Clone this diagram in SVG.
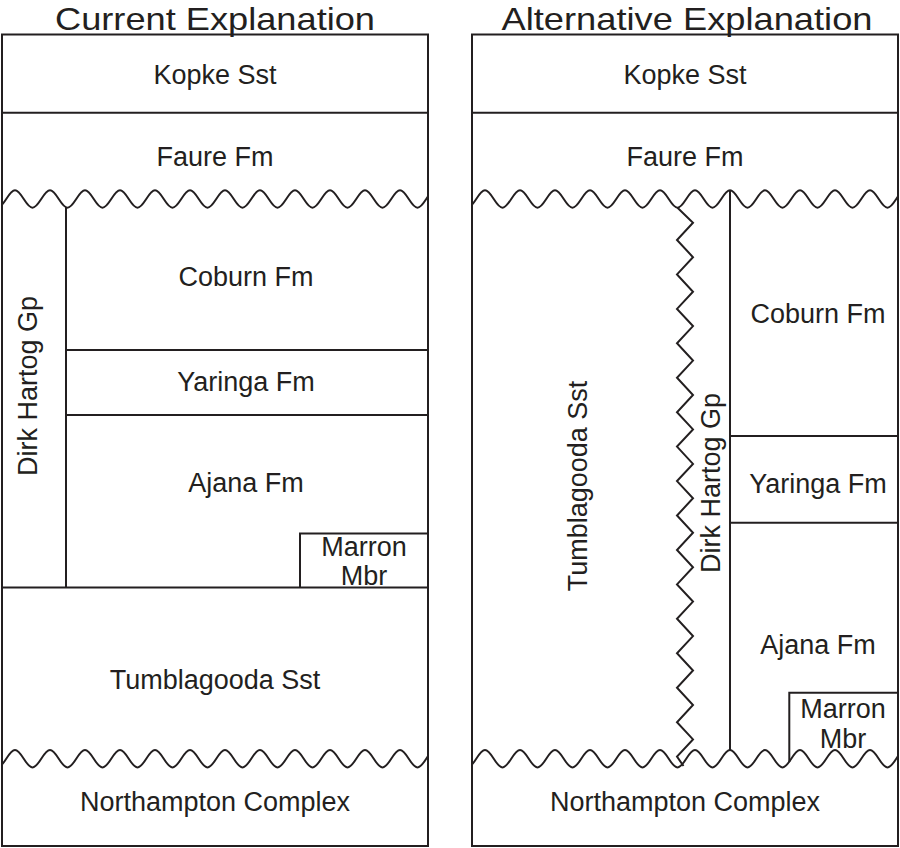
<svg xmlns="http://www.w3.org/2000/svg" xmlns:xlink="http://www.w3.org/1999/xlink" width="900" height="848" viewBox="0 0 900 848">
<style>
.ln{fill:none;stroke:#231f20;stroke-width:2}
.lb{font-family:"Liberation Sans",Arial,sans-serif;font-size:27px;fill:#231f20;text-anchor:middle}
.tt{font-family:"Liberation Sans",Arial,sans-serif;font-size:32px;fill:#231f20;text-anchor:middle}
</style>
<defs>
<path id="wave" class="ln" d="M-20,0c6.36,0 11.14,17.4 17.5,17.4s11.14,-17.4 17.5,-17.4s11.14,17.4 17.5,17.4s11.14,-17.4 17.5,-17.4s11.14,17.4 17.5,17.4s11.14,-17.4 17.5,-17.4s11.14,17.4 17.5,17.4s11.14,-17.4 17.5,-17.4s11.14,17.4 17.5,17.4s11.14,-17.4 17.5,-17.4s11.14,17.4 17.5,17.4s11.14,-17.4 17.5,-17.4s11.14,17.4 17.5,17.4s11.14,-17.4 17.5,-17.4s11.14,17.4 17.5,17.4s11.14,-17.4 17.5,-17.4s11.14,17.4 17.5,17.4s11.14,-17.4 17.5,-17.4s11.14,17.4 17.5,17.4s11.14,-17.4 17.5,-17.4s11.14,17.4 17.5,17.4s11.14,-17.4 17.5,-17.4s11.14,17.4 17.5,17.4s11.14,-17.4 17.5,-17.4s11.14,17.4 17.5,17.4s11.14,-17.4 17.5,-17.4"/>
<clipPath id="clipL"><rect x="2" y="0" width="426" height="848"/></clipPath>
<clipPath id="clipR"><rect x="472" y="0" width="426" height="848"/></clipPath>
</defs>
<rect width="900" height="848" fill="#ffffff"/>

<g id="titles">
<text class="tt" x="215" y="30" textLength="320" lengthAdjust="spacingAndGlyphs">Current Explanation</text>
<text class="tt" x="687" y="30" textLength="371" lengthAdjust="spacingAndGlyphs">Alternative Explanation</text>
</g>

<g id="connectors">
<!-- left panel -->
<rect class="ln" x="2" y="34.5" width="426" height="811.5"/>
<line class="ln" x1="2" y1="112.7" x2="428" y2="112.7"/>
<line class="ln" x1="66" y1="207" x2="66" y2="587.5"/>
<line class="ln" x1="66" y1="350" x2="428" y2="350"/>
<line class="ln" x1="66" y1="415" x2="428" y2="415"/>
<line class="ln" x1="2" y1="587.5" x2="428" y2="587.5"/>
<polyline class="ln" points="428,533.5 300,533.5 300,587.5"/>
<g clip-path="url(#clipL)">
<use xlink:href="#wave" href="#wave" transform="translate(0,190.3)"/>
<use xlink:href="#wave" href="#wave" transform="translate(0,750)"/>
</g>
<!-- right panel -->
<rect class="ln" x="472" y="34.5" width="426" height="811.5"/>
<line class="ln" x1="472" y1="112.7" x2="898" y2="112.7"/>
<line class="ln" x1="730" y1="190.3" x2="730" y2="750"/>
<line class="ln" x1="730" y1="436" x2="898" y2="436"/>
<line class="ln" x1="730" y1="522.7" x2="898" y2="522.7"/>
<polyline class="ln" points="898,692.7 789.3,692.7 789.3,762"/>
<g clip-path="url(#clipR)">
<use xlink:href="#wave" href="#wave" transform="translate(470,190.3)"/>
<use xlink:href="#wave" href="#wave" transform="translate(470,750)"/>
</g>
<polyline class="ln" stroke-linejoin="miter" points="677.5,207.7 693,222.8 677,240 693,257.2 677,274.4 693,291.7 677,308.9 693,326.1 677,343.3 693,360.6 677,377.8 693,395 677,412.2 693,429.4 677,446.6 693,463.9 677,481.1 693,498.3 677,515.5 693,532.8 677,550 693,567.2 677,584.4 693,601.6 677,618.8 693,636.1 677,653.3 693,670.5 677,687.7 693,705 677,722.2 693,739.4 677,756.6 683.5,766"/>
</g>

<g id="left-kopke"><text class="lb" x="215" y="84">Kopke Sst</text></g>
<g id="left-faure"><text class="lb" x="215" y="166">Faure Fm</text></g>
<g id="left-dirkhartog"><text class="lb" transform="translate(37,386) rotate(-90)">Dirk Hartog Gp</text></g>
<g id="left-coburn"><text class="lb" x="246" y="286">Coburn Fm</text></g>
<g id="left-yaringa"><text class="lb" x="246" y="391">Yaringa Fm</text></g>
<g id="left-ajana"><text class="lb" x="246" y="492">Ajana Fm</text></g>
<g id="left-marron"><text class="lb" x="364" y="556">Marron</text><text class="lb" x="364" y="585">Mbr</text></g>
<g id="left-tumblagooda"><text class="lb" x="215" y="689">Tumblagooda Sst</text></g>
<g id="left-northampton"><text class="lb" x="215" y="811">Northampton Complex</text></g>

<g id="right-kopke"><text class="lb" x="685" y="84">Kopke Sst</text></g>
<g id="right-faure"><text class="lb" x="685" y="166">Faure Fm</text></g>
<g id="right-tumblagooda"><text class="lb" transform="translate(586.7,486) rotate(-90)">Tumblagooda Sst</text></g>
<g id="right-dirkhartog"><text class="lb" transform="translate(720,483) rotate(-90)">Dirk Hartog Gp</text></g>
<g id="right-coburn"><text class="lb" x="818" y="323">Coburn Fm</text></g>
<g id="right-yaringa"><text class="lb" x="818" y="492.7">Yaringa Fm</text></g>
<g id="right-ajana"><text class="lb" x="818" y="654">Ajana Fm</text></g>
<g id="right-marron"><text class="lb" x="843" y="718">Marron</text><text class="lb" x="843" y="748">Mbr</text></g>
<g id="right-northampton"><text class="lb" x="685" y="811">Northampton Complex</text></g>
</svg>
